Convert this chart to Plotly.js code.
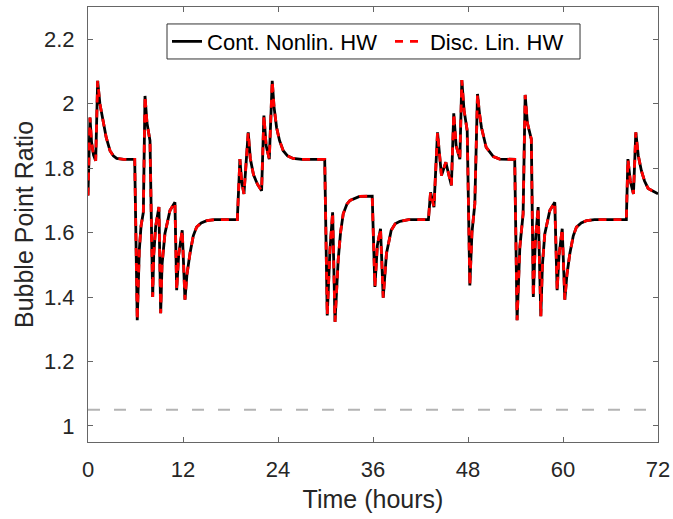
<!DOCTYPE html>
<html>
<head>
<meta charset="utf-8">
<script src="https://cdn.plot.ly/plotly-3.0.1.min.js"></script>
<style>
html,body{margin:0;padding:0;background:#fff;}
#chart{width:673px;height:519px;}
</style>
</head>
<body>
<div id="chart"></div>
<script>
// Time in hours
const timeHours = [0,0.25,0.45,0.7,0.97,1.22,1.5,1.93,2.3,2.78,3.2,3.62,4.5,5.9,6.22,6.48,6.7,6.99,7.2,7.45,7.83,8.17,8.3,8.55,8.96,9.18,9.35,9.72,10.35,10.98,11.2,11.45,11.9,12.25,12.5,12.88,13.3,13.72,14.3,15,16,18.86,
19.19,19.4,19.7,20.24,20.5,20.9,21.4,21.93,22.22,22.5,22.9,23.27,23.5,23.82,24.2,24.66,25.2,25.9,27,29.9,30.22,30.56,30.9,31.2,31.6,31.9,32.24,32.7,33.1,34.3,35.9,36.24,36.55,36.95,37.29,37.7,38.3,38.8,39.4,40.5,43.0,
43.27,43.7,44.15,44.65,45.2,45.9,46.2,46.5,46.97,47.22,47.5,47.9,48.23,48.5,48.86,49.2,49.45,49.7,50.3,51.2,52,53.9,54.2,54.55,54.96,55.22,55.5,56.0,56.25,56.5,56.86,57.2,57.4,57.7,58.33,58.96,59.26,59.5,59.9,60.23,60.5,60.86,61.3,61.7,62.3,62.97,64,68.0,
68.2,68.5,68.9,69.2,69.5,69.9,70.3,70.75,71.4,72];

// Continuous nonlinear HW bubble point ratio
const contNonlinHW = [1.715,1.957,1.88,1.84,1.823,2.071,2.0,1.947,1.895,1.854,1.838,1.830,1.827,1.827,1.328,1.545,1.62,1.663,2.024,1.94,1.885,1.4,1.53,1.62,1.679,1.35,1.5,1.597,1.668,1.694,1.421,1.53,1.607,1.392,1.47,1.535,1.59,1.617,1.63,1.637,1.64,1.64,
1.828,1.76,1.72,1.911,1.83,1.78,1.75,1.73,1.963,1.87,1.828,2.071,1.99,1.926,1.885,1.854,1.838,1.83,1.827,1.827,1.343,1.545,1.663,1.323,1.514,1.6,1.658,1.688,1.7,1.712,1.713,1.431,1.56,1.612,1.398,1.535,1.607,1.627,1.635,1.64,1.64,
1.725,1.679,1.911,1.777,1.818,1.746,1.97,1.87,1.828,2.073,1.98,1.916,1.436,1.6,1.689,2.03,1.97,1.926,1.864,1.836,1.828,1.827,1.328,1.555,1.658,2.027,1.94,1.89,1.4,1.57,1.679,1.34,1.5,1.596,1.668,1.694,1.421,1.53,1.612,1.392,1.47,1.534,1.59,1.617,1.63,1.637,1.64,1.64,
1.828,1.76,1.72,1.911,1.84,1.792,1.76,1.737,1.728,1.72];

// Discrete linear HW (visually identical to the continuous one)
const discLinHW = contNonlinHW.slice();

// Lower limit line
const limitTimes = [0, 72];
const limitValues = [1.05, 1.05];

const seriesNames = ["Cont. Nonlin. HW", "Disc. Lin. HW"];
const xTicks = [0, 12, 24, 36, 48, 60, 72];
const yTicks = [1, 1.2, 1.4, 1.6, 1.8, 2, 2.2];
const yTickText = ["1", "1.2", "1.4", "1.6", "1.8", "2", "2.2"];

const FONT = "Liberation Sans, Arial, Helvetica, sans-serif";
const legendFont = {family: FONT, size: 22, color: "#000000"};

const traces = [
  {x: limitTimes, y: limitValues, mode: "lines", showlegend: false, hoverinfo: "skip",
   line: {color: "#b4b4b4", width: 2, dash: "12px,14px"}},
  {x: timeHours, y: contNonlinHW, mode: "lines", name: seriesNames[0], legend: "legend",
   line: {color: "#000000", width: 2.8}},
  {x: timeHours, y: discLinHW, mode: "lines", name: seriesNames[1], legend: "legend2",
   line: {color: "#ff0000", width: 2.8, dash: "8px,7px"}}
];

const axisCommon = {
  showline: true, linecolor: "#666666", linewidth: 1, mirror: "ticks",
  ticks: "inside", ticklen: 5, tickwidth: 1, tickcolor: "#666666",
  showgrid: false, zeroline: false,
  tickfont: {family: FONT, size: 22, color: "#262626"}
};

const legendCommon = {
  orientation: "h", yanchor: "middle", y: 0.9207, xanchor: "left",
  bgcolor: "rgba(0,0,0,0)", borderwidth: 0, font: legendFont, itemwidth: 30
};

const layout = {
  width: 673, height: 519,
  margin: {l: 88, r: 15, t: 7, b: 77, pad: 0},
  paper_bgcolor: "#ffffff", plot_bgcolor: "#ffffff",
  showlegend: true,
  legend: Object.assign({}, legendCommon, {x: 0.1386}),
  legend2: Object.assign({}, legendCommon, {x: 0.5298}),
  shapes: [{
    type: "rect", xref: "paper", yref: "paper",
    x0: 0.1386, x1: 0.8632, y0: 0.8805, y1: 0.961,
    line: {color: "#333333", width: 1}, fillcolor: "#ffffff", layer: "below"
  }],
  xaxis: Object.assign({}, axisCommon, {
    range: [0, 72], tickmode: "array", tickvals: xTicks,
    ticklabelstandoff: 8,
    title: {text: "Time (hours)", font: {family: FONT, size: 25, color: "#262626"}, standoff: 9},
    automargin: false
  }),
  yaxis: Object.assign({}, axisCommon, {
    range: [0.95, 2.3], tickmode: "array", tickvals: yTicks, ticktext: yTickText,
    ticklabelstandoff: 8,
    title: {text: "Bubble Point Ratio", font: {family: FONT, size: 25, color: "#262626"}, standoff: 3},
    automargin: false
  })
};

Plotly.newPlot("chart", traces, layout, {displayModeBar: false, staticPlot: true});
</script>
</body>
</html>
